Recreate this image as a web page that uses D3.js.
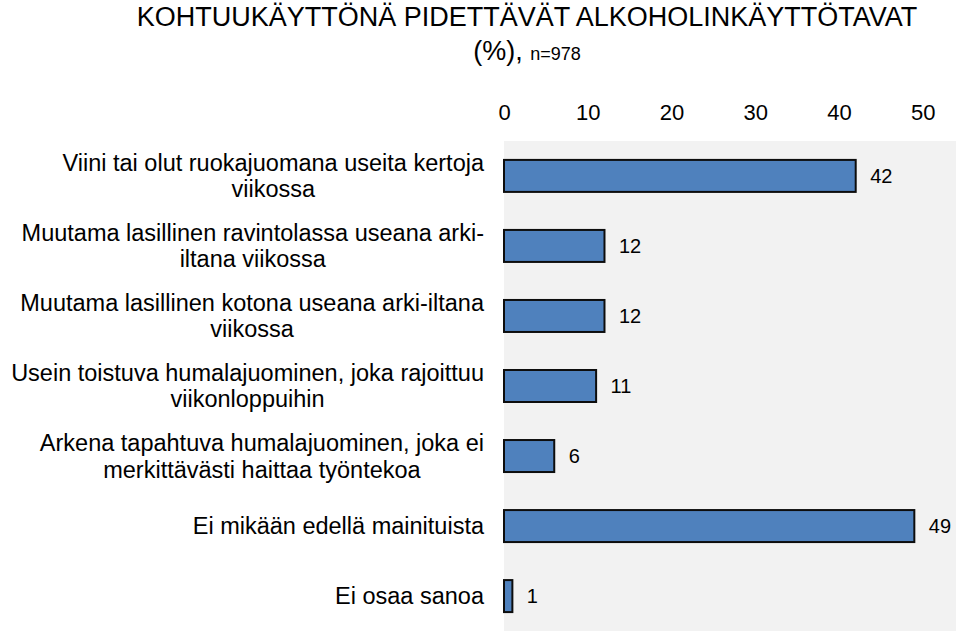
<!DOCTYPE html>
<html><head><meta charset="utf-8">
<script src="https://cdn.jsdelivr.net/npm/d3@7"></script>
<style>
body{margin:0;background:#fff;}
svg{display:block;}
text{font-family:"Liberation Sans",Arial,sans-serif;fill:#000;}
</style></head>
<body>
<svg id="chart" width="960" height="633"></svg>
<script>
const categories = [
  ["Viini tai olut ruokajuomana useita kertoja", "viikossa"],
  ["Muutama lasillinen ravintolassa useana arki-", "iltana viikossa"],
  ["Muutama lasillinen kotona useana arki-iltana", "viikossa"],
  ["Usein toistuva humalajuominen, joka rajoittuu", "viikonloppuihin"],
  ["Arkena tapahtuva humalajuominen, joka ei", "merkittävästi haittaa työntekoa"],
  ["Ei mikään edellä mainituista"],
  ["Ei osaa sanoa"]
];
const values = [42, 12, 12, 11, 6, 49, 1];
const tickValues = [0, 10, 20, 30, 40, 50];
const titleLine1 = "KOHTUUKÄYTTÖNÄ PIDETTÄVÄT ALKOHOLINKÄYTTÖTAVAT";
const titleLine2a = "(%), ";
const titleLine2b = "n=978";

const svg = d3.select("#chart");
const plotLeft = 504, plotRight = 956, plotTop = 141, plotBottom = 631;

const x = d3.scaleLinear().domain([0, 50]).range([plotLeft, 922.7]);
const y = d3.scaleBand().domain(d3.range(categories.length))
  .range([plotTop, plotBottom]).paddingInner(0.543).paddingOuter(0.27);

// background
svg.append("rect").attr("x", plotLeft).attr("y", plotTop)
  .attr("width", plotRight - plotLeft).attr("height", plotBottom - plotTop)
  .attr("fill", "#f2f2f2");

// title
svg.append("text").attr("text-anchor", "middle")
  .attr("x", 527).attr("y", 26).style("font-size", "27px").text(titleLine1);
const t2 = svg.append("text").attr("text-anchor", "middle")
  .attr("x", 527).attr("y", 60).style("font-size", "27px");
t2.append("tspan").text(titleLine2a);
t2.append("tspan").style("font-size", "18px").text(titleLine2b);

// top axis
const axis = d3.axisTop(x).tickValues(tickValues).tickSize(0).tickPadding(0).tickFormat(d3.format("d"));
const ag = svg.append("g").attr("transform", "translate(0,120)").call(axis);
ag.select(".domain").remove();
ag.selectAll("text").style("font-size", "22px").style("font-family", '"Liberation Sans",Arial,sans-serif').attr("fill", "#000");

// bars
svg.append("g").selectAll("rect").data(values).join("rect")
  .attr("x", x(0)).attr("y", (d, i) => y(i))
  .attr("width", d => x(d) - x(0)).attr("height", y.bandwidth())
  .attr("fill", "#4f81bd").attr("stroke", "#0d0d0d").attr("stroke-width", 2);

// value labels
svg.append("g").selectAll("text").data(values).join("text")
  .attr("x", d => x(d) + 14.5).attr("y", (d, i) => y(i) + y.bandwidth() / 2)
  .attr("dy", "0.35em").style("font-size", "20px").text(d => d);

// category labels
const lineH = 26.5;
const lg = svg.append("g");
categories.forEach((lines, i) => {
  const cy = y(i) + y.bandwidth() / 2;
  const txt = lg.append("text").style("font-size", "23.5px").attr("text-anchor", "middle");
  const n = lines.length;
  const spans = lines.map((l, k) => txt.append("tspan")
    .attr("y", cy + (k - (n - 1) / 2) * lineH).attr("dy", "0.35em").text(l));
  let maxW = 0;
  spans.forEach(s => { maxW = Math.max(maxW, s.node().getComputedTextLength()); });
  const cx = 484 - maxW / 2;
  spans.forEach(s => s.attr("x", cx));
});
</script>
</body></html>
